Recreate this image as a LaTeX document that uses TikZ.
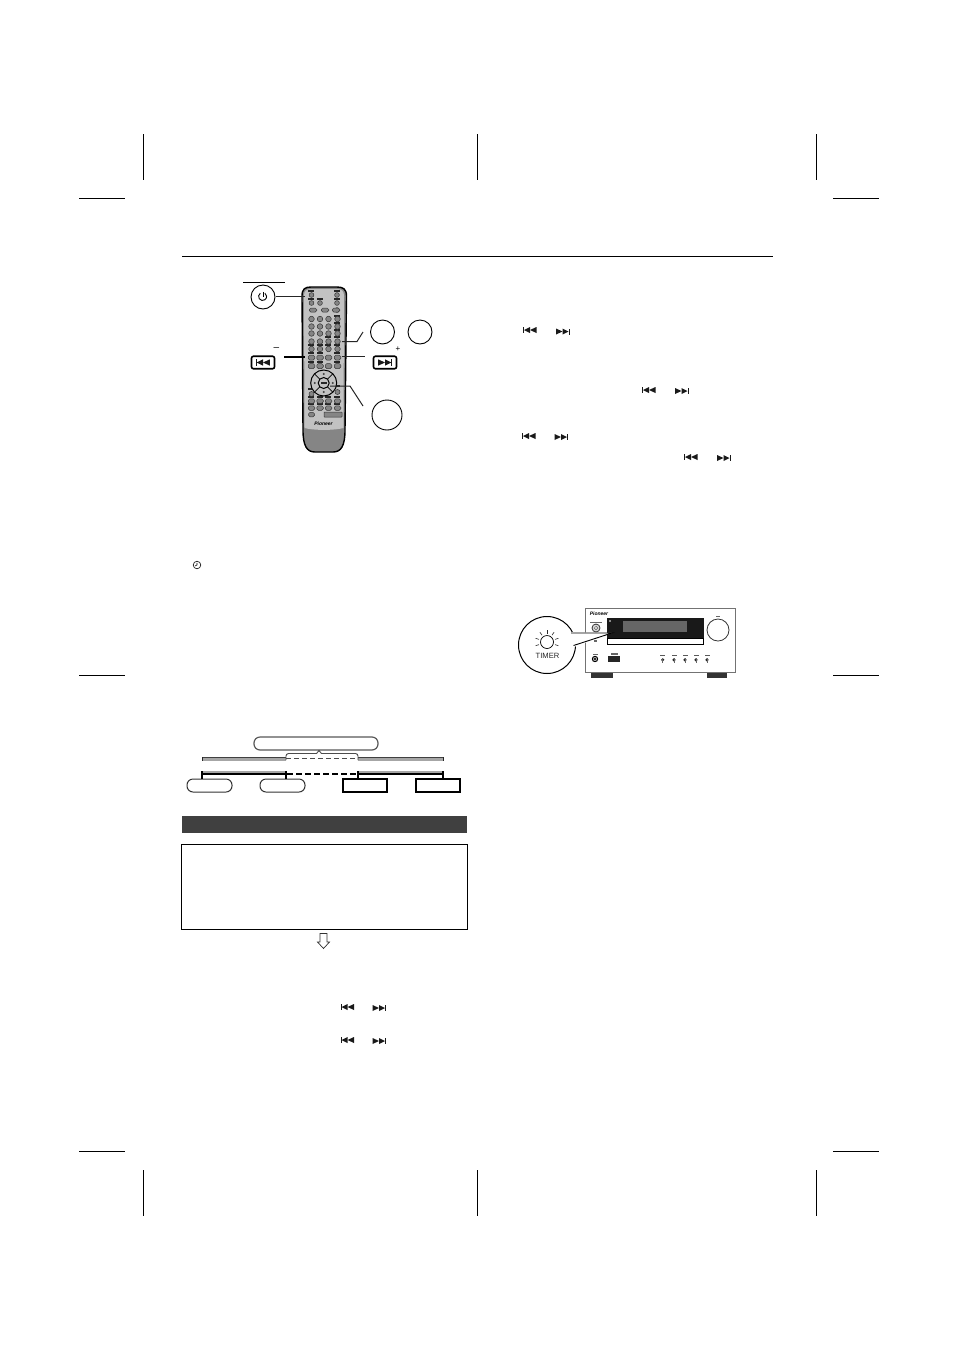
\documentclass[tikz,border=0pt]{standalone}
\usepackage{fontspec}
\setmainfont{Liberation Sans}
\definecolor{remlight}{gray}{0.76}
\definecolor{remdark}{gray}{0.52}
\definecolor{barcol}{HTML}{404040}
\tikzset{
  crop/.style={draw=black,line width=0.8pt},
  leader/.style={draw=black!85,line width=1pt},
  keycircle/.style={circle,draw=black,line width=0.9pt,fill=white,inner sep=0pt},
  keybox/.style={rounded corners=2pt,draw=black,line width=1.6pt,fill=white,inner sep=0pt,minimum width=23pt,minimum height=12.5pt},
  pillbox/.style={rounded corners=6pt,draw=black!80,line width=1pt,inner sep=0pt,minimum height=13pt},
  sqbox/.style={draw=black,line width=1.2pt,inner sep=0pt,minimum width=44pt,minimum height=13pt},
  rbtn/.style={circle,fill=remdark,draw=black!80,line width=0.5pt,inner sep=0pt,minimum size=5.6pt},
  rpill/.style={rounded corners=1.6pt,fill=remdark,draw=black!80,line width=0.5pt,inner sep=0pt,minimum width=7.5pt,minimum height=4pt},
  rtag/.style={fill=black!85,inner sep=0pt,minimum width=5.5pt,minimum height=1.6pt},
  pics/prevkey/.style={code={
    \fill[black!90] (-7,-3) rectangle (-6,3);
    \fill[black!90] (-6,0)--(0,-3)--(0,3)--cycle;
    \fill[black!90] (0,0)--(6.5,-3)--(6.5,3)--cycle;}},
  pics/nextkey/.style={code={
    \fill[black!90] (6,-3) rectangle (7,3);
    \fill[black!90] (6,0)--(0,-3)--(0,3)--cycle;
    \fill[black!90] (0,0)--(-6.5,-3)--(-6.5,3)--cycle;}},
}
\begin{document}
\begin{tikzpicture}[x=1pt,y=-1pt]
\useasboundingbox (0,0) rectangle (954,1350);
\fill[white] (0,0) rectangle (954,1350);
% crop marks
\foreach \x in {143.5,477.5,816.5}{
  \draw[crop] (\x,134)--(\x,180);
  \draw[crop] (\x,1170)--(\x,1216);}
\foreach \y in {198,675,1151}{
  \draw[crop] (79,\y)--(125,\y);
  \draw[crop] (833,\y)--(879,\y);}
% header rule
\draw[black,line width=0.9pt] (182,256.5)--(773,256.5);
% remote
\draw[black,line width=1.4pt,fill=remdark] (302,296) .. controls (302,289) and (305,287) .. (311,287) -- (337,287) .. controls (343,287) and (346.5,289) .. (346.5,296) -- (345,430) .. controls (345,446) and (341,452) .. (333,452) -- (315,452) .. controls (307,452) and (303,446) .. (303,430) -- cycle;
\fill[remlight] (304,296) .. controls (304,291) and (306,289) .. (311,289) -- (337,289) .. controls (342,289) and (344,291) .. (344,296) -- (343.5,428) .. controls (335,430.5) and (313,430.5) .. (304.5,428) -- cycle;
\foreach \x/\y in {311.5/295,337/295,311.5/303,320/303,337/303,337/310}{\node[rbtn,minimum size=4.8pt] at (\x,\y) {};}
\foreach \x/\y in {311/291,337/291,311/299,320/299,337/299,337/316,337/323,337/330,328/337,337/337,311/345,320/345,328/345,337/345,311/353,320/353,337/353,311/362,320/362,337/362,311/389,337/386,311/397,320/397,328/397,337/397,311/404,320/404,328/404,337/404}{\node[rtag] at (\x,\y) {};}
\foreach \x/\y in {313/310,325/310,336/310}{\node[rpill] at (\x,\y) {};}
\foreach \y in {319,326.5,333.5,341.5,349}{\foreach \x in {311.5,320,328.5,337.5}{\node[rbtn] at (\x,\y) {};}}
\foreach \y in {357.5,366}{\foreach \x in {311.5,320,328.5,337.5}{\node[rpill,minimum width=6.5pt,minimum height=5pt] at (\x,\y) {};}}
\node[rbtn,minimum size=5pt] at (311.5,394) {};
\node[rbtn,minimum size=5pt] at (337.5,392) {};
\foreach \x in {311.5,320,328.5,337.5}{\node[rpill,minimum width=6.5pt,minimum height=4.5pt] at (\x,401) {};\node[rpill,minimum width=6.5pt,minimum height=4.5pt] at (\x,408) {};}
\node[rpill,minimum width=6pt,minimum height=4.5pt] at (311.5,414.5) {};
\node[rpill,minimum width=18pt,minimum height=5pt,rounded corners=0.5pt,fill=remdark] at (333,414.5) {};
% d-pad
\draw[black,line width=1pt,fill=remlight] (323.7,383) circle (13);
\foreach \a in {45,135,225,315}{\draw[black,line width=0.7pt] (323.7,383)+(\a:5.5)--+(\a:13);}
\node[circle,fill=remlight,draw=black,line width=1pt,inner sep=0pt,minimum size=11pt] at (323.7,383) {};
\fill[black!85] (320.5,382.2) rectangle (327,384);
\foreach \a in {0,90,180,270}{\fill[black!75] (323.7,383)+(\a:9) circle (1.1);}
\node[font=\bfseries\itshape,scale=0.5] at (323.5,424) {Pioneer};
% remote anchor coordinates
\coordinate (powerEnd) at (305,296);
\coordinate (prevEnd) at (305,356.5);
\coordinate (nextEnd) at (342,356.5);
\coordinate (digitsEnd) at (342,341.5);
\coordinate (digitsBend) at (357,341.5);
\coordinate (digitsFree) at (363,332);
\coordinate (enterEnd) at (330,386);
\coordinate (enterBend) at (350,386);
\coordinate (enterFree) at (363,406);
% remote callouts
\node[keycircle,minimum size=24pt] (power) at (263,297) {};
\draw[black,line width=0.9pt] (263,291.8)--(263,296.5);
\draw[black,line width=0.9pt] (260.3,293.2) arc[start angle=-125,end angle=-415,radius=4];
\draw[black,line width=0.9pt] (243,282)--(285,282);
\draw[leader] (power.east)++(1,-1)--(powerEnd);
\node[keybox] (prevbtn) at (263,362.5) {};
\pic[scale=1.05] at (263,362.5) {prevkey};
\node[keybox] (nextbtn) at (385,362.5) {};
\pic[scale=1.05] at (385,362.5) {nextkey};
\node[font=\fontsize{10}{10}\selectfont] at (276.5,349) {–};
\node[font=\fontsize{8}{8}\selectfont] at (398,349) {+};
\draw[black,line width=2pt] (284,356.5)--(prevEnd);
\draw[leader] (nextEnd)--(365,356.5);
\node[keycircle,minimum size=24pt] (c1) at (382.5,332) {};
\node[keycircle,minimum size=24pt] (c2) at (420,332) {};
\node[keycircle,minimum size=30pt] (c3) at (387,415) {};
\draw[leader] (digitsEnd)--(digitsBend)--(digitsFree);
\draw[leader] (enterEnd)--(enterBend)--(enterFree);
% clock icon
\draw[black,line width=0.6pt] (197,565) circle (3.8);
\draw[black,line width=0.6pt] (197,562.8)--(197,565)--(195,566);
% bracket diagram
\node[pillbox,minimum width=124pt,draw=black!65,line width=1.2pt] (top) at (316,743.5) {};
\node[pillbox,minimum width=45pt] (p1) at (209.5,785.5) {};
\node[pillbox,minimum width=45pt] (p2) at (282.5,785.5) {};
\node[sqbox] (s1) at (365,785.5) {};
\node[sqbox] (s2) at (438,785.5) {};
\fill[black!35] (202,758)rectangle(286,760.5);
\fill[black!35] (358,758)rectangle(443,760.5);
\draw[black!75,line width=0.8pt] (202,757.5)--(286,757.5) (358,757.5)--(443,757.5);
\draw[black!85,line width=1pt] (202,757)--(202,760.5) (443,757)--(443,760.5);
\draw[black!70,line width=0.9pt,dashed,dash pattern=on 5pt off 3pt] (286,758)--(358,758);
\draw[black!70,line width=0.9pt] (286,760)--(286,756) arc[start angle=180,end angle=270,radius=2.5]--(316.5,753.5)--(319,750.5)--(321.5,753.5)--(355.5,753.5) arc[start angle=-90,end angle=0,radius=2.5]--(358,760);
\fill[black!35] (202,770.5)rectangle(286,773);
\fill[black!35] (358,770.5)rectangle(443,773);
\draw[black,line width=2pt] (202,774.3)--(286,774.3) (358,774.3)--(443,774.3);
\draw[black,line width=1.8pt,dashed,dash pattern=on 5.5pt off 3.5pt] (287,774.3)--(358,774.3);
\draw[black,line width=1.2pt] (202,771)--(202,779) (286,771)--(286,779) (358,771)--(358,779) (443,771)--(443,779);
% dark bar
\fill[barcol] (182,816) rectangle (467,833);
% note box
\draw[black,line width=1pt] (181.5,844.5) rectangle (467,929);
% hollow arrow
\draw[black!80,line width=0.7pt,fill=white] (320,933.5)--(327,933.5)--(327,942)--(329.5,942)--(323.5,948.5)--(317.5,942)--(320,942)--cycle;
% inline key glyphs
\foreach \xa/\xb/\ya/\yb in {530/562.5/330/331.5, 649/681.5/390/391, 529/561/436/437, 691/723.5/457/458, 347.5/379/1007/1008, 347.5/379/1040/1041}{
  \pic at (\xa,\ya) {prevkey};
  \pic at (\xb,\yb) {nextkey};
}
% device
\fill[black!80] (591,670) rectangle (613,678);
\fill[black!80] (707,670) rectangle (727,678);
\draw[black!55,line width=0.8pt,fill=white] (585,608) rectangle (735,672.5);
\fill[black!90] (607,618) rectangle (704,645);
\fill[black!60] (623,621) rectangle (687,632);
\draw[black,line width=0.3pt,fill=white] (607.5,638) rectangle (703,644);
\fill[white] (610,621) circle (0.8);
\draw[black!80,line width=0.8pt] (718,630) circle (11);
\node[font=\bfseries\itshape,scale=0.5] at (599,614) {Pioneer};
\draw[black!80,line width=0.8pt,fill=black!15] (596,628) circle (4);
\draw[black!70,line width=0.3pt] (596,628) circle (1.8);
\fill[black!60] (590,621.5) rectangle (602,623);
\fill[black!60] (716,616) rectangle (720,617);
\fill[black!60] (594,640) rectangle (597,641.5);
\fill[black!60] (593,654) rectangle (598,655);
\draw[black,line width=0.9pt,fill=black!30] (595,659) circle (2.7);
\fill[black] (595,659) circle (1.1);
\fill[black!85] (608,655.5) rectangle (620,662);
\fill[black!60] (611,653) rectangle (618,654.5);
\foreach \x in {662.7,674,685,696,707}{
  \fill[black!65] (\x-2.5,654.8) rectangle (\x+2.5,655.8);
  \fill[black!85] (\x,659.8) circle (1.7);
  \fill[black!60] (\x-0.3,657.5) rectangle (\x+0.3,662.5);
}
% timer zoom circle
\coordinate (timerTip) at (612,633);
\node[circle,draw=black,line width=1pt,fill=white,inner sep=0pt,minimum size=57pt] (timer) at (547,645) {};
\fill[white] (569,632) -- (timerTip) -- (571,648) -- cycle;
\draw[black,line width=0.9pt] (571,633)--(timerTip)--(573.5,645.5);
\node[circle,draw=black,line width=0.7pt,inner sep=0pt,minimum size=13pt] (lamp) at (547,642) {};
\foreach \a in {-198,-162,-126,-90,-54,-18,18}{\draw[black!85,line width=0.6pt] (lamp.center)+(\a:8.5)--+(\a:12);}
\node[font=\fontsize{7.6}{8}\selectfont,text=black!85] at (547.5,655.5) {TIMER};
\end{tikzpicture}
\end{document}
